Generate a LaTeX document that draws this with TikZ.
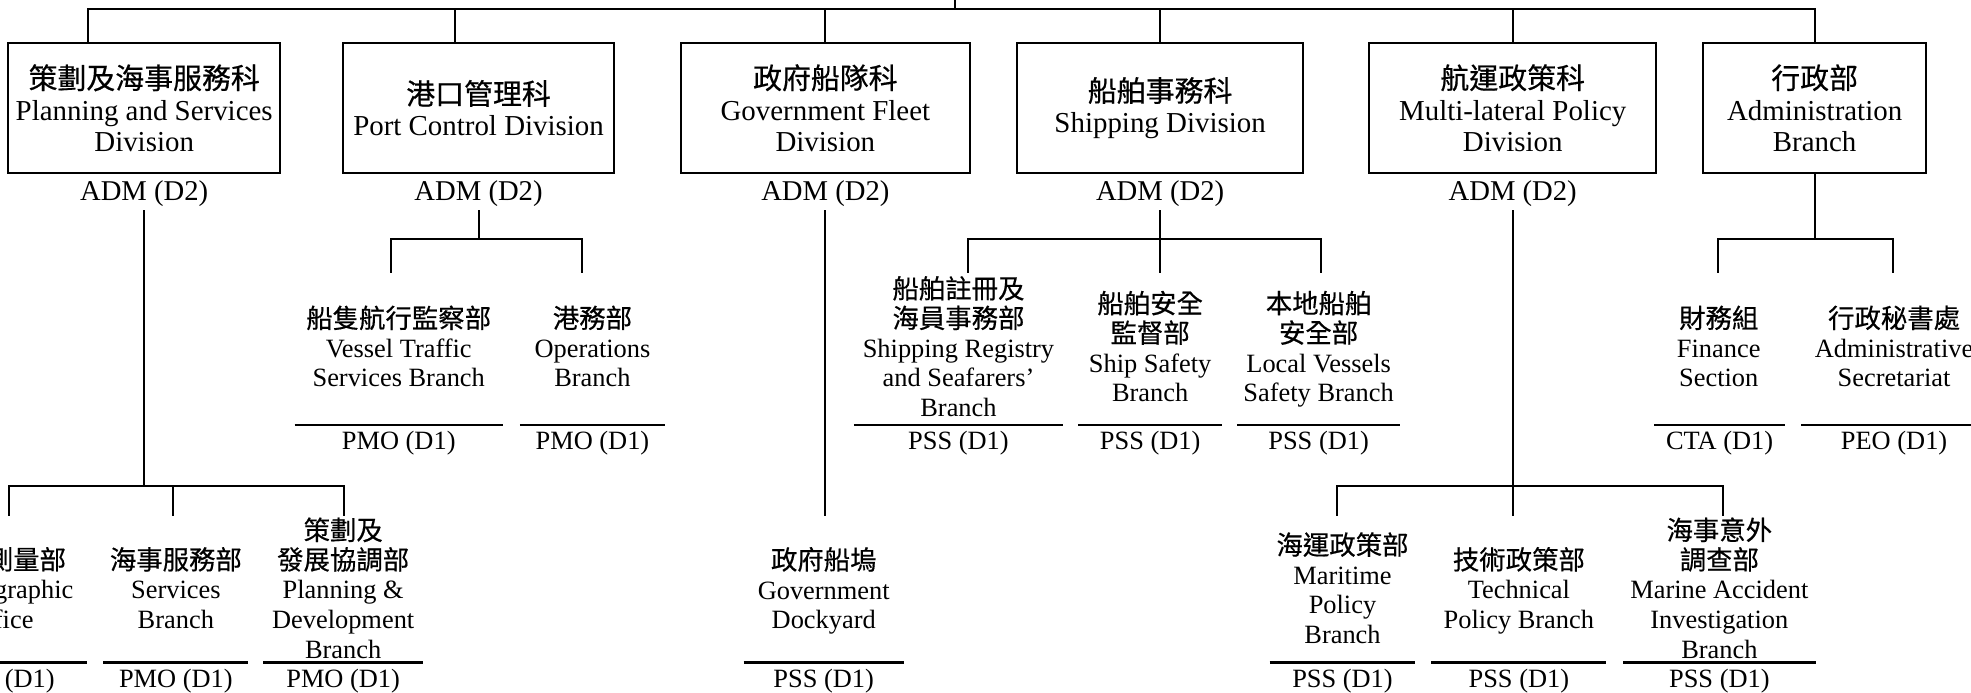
\documentclass[tikz,border=0pt]{standalone}
\usepackage{fontspec}
\setmainfont{Liberation Serif}
\newfontfamily\cjk[FakeBold=0.5]{Noto Sans CJK TC}
\newcommand{\zh}[1]{{\cjk #1}}
\usetikzlibrary{positioning}
\setlength{\lineskiplimit}{-\maxdimen}

\begin{document}
\begin{tikzpicture}[x=0.5pt,y=-0.5pt,
        link/.style={line width=0.8pt},
        rule/.style={line width=1pt},
        division/.style={draw,line width=0.8pt,minimum height=52pt,inner sep=0,align=center,
            font=\fontsize{11.5}{12.5}\selectfont},
        grade/.style={inner sep=0,outer sep=1.3pt,font=\fontsize{11.4}{12.5}\selectfont},
        branch/.style={inner sep=0,align=center,text depth=0pt,font=\fontsize{10.5}{11.75}\selectfont},
        rank/.style={anchor=north,inner sep=0,outer sep=0,minimum height=14.5pt,
            font=\fontsize{10.5}{11.75}\selectfont}]
    \useasboundingbox (0,0) rectangle (1568,551);
    \clip (0,0) rectangle (1568,551);

    % divisions
    \node[division,minimum width=108pt] (psd) at (114.7,86) {\zh{策劃及海事服務科}\\Planning and Services\\Division};
    \node[division,minimum width=108pt] (pcd) at (380.7,86) {\zh{港口管理科}\\Port Control Division};
    \node[division,minimum width=115pt] (gfd) at (656.6,86) {\zh{政府船隊科}\\Government Fleet\\Division};
    \node[division,minimum width=113.8pt] (shd) at (922.9,86) {\zh{船舶事務科}\\Shipping Division};
    \node[division,minimum width=114pt] (mpd) at (1203.4,86) {\zh{航運政策科}\\Multi-lateral Policy\\Division};
    \node[division,minimum width=88.8pt] (adb) at (1443.6,86) {\zh{行政部}\\Administration\\Branch};

    \node[grade,below=1.2pt of psd] (psdg) {ADM (D2)};
    \node[grade,below=1.2pt of pcd] (pcdg) {ADM (D2)};
    \node[grade,below=1.2pt of gfd] (gfdg) {ADM (D2)};
    \node[grade,below=1.2pt of shd] (shdg) {ADM (D2)};
    \node[grade,below=1.2pt of mpd] (mpdg) {ADM (D2)};

    % branches, upper row
    \node[branch] (vts) at (317.2,275.5) {\zh{船隻航行監察部}\\Vessel Traffic\\Services Branch};
    \node[branch] (ops) at (471.3,275.5) {\zh{港務部}\\Operations\\Branch};
    \node[branch] (srb) at (762.5,275.5) {\zh{船舶註冊及}\\\zh{海員事務部}\\Shipping Registry\\and Seafarers'\\Branch};
    \node[branch] (ssb) at (915,275.5) {\zh{船舶安全}\\\zh{監督部}\\Ship Safety\\Branch};
    \node[branch] (lvb) at (1049,275.5) {\zh{本地船舶}\\\zh{安全部}\\Local Vessels\\Safety Branch};
    \node[branch] (fin) at (1367.3,275.5) {\zh{財務組}\\Finance\\Section};
    \node[branch] (sec) at (1506.8,275.5) {\zh{行政秘書處}\\Administrative\\Secretariat};

    \node[rank,minimum width=82.9pt] (vtsr) at (317.2,338) {PMO (D1)};
    \node[rank,minimum width=57.7pt] (opsr) at (471.3,338) {PMO (D1)};
    \node[rank,minimum width=83.2pt] (srbr) at (762.5,338) {PSS (D1)};
    \node[rank,minimum width=57.3pt] (ssbr) at (915,338) {PSS (D1)};
    \node[rank,minimum width=64.7pt] (lvbr) at (1049,338) {PSS (D1)};
    \node[rank,minimum width=52pt] (finr) at (1368,338) {CTA (D1)};
    \node[rank,minimum width=74pt] (secr) at (1506.8,338) {PEO (D1)};

    % branches, lower row
    \node[branch] (hyd) at (0,467.6) {\zh{水道測量部}\\Hydrographic\\Office};
    \node[branch] (svc) at (139.9,467.6) {\zh{海事服務部}\\Services\\Branch};
    \node[branch] (pdb) at (273,467.6) {\zh{策劃及}\\\zh{發展協調部}\\Planning \&\\Development\\Branch};
    \node[branch] (gdy) at (655.3,467.6) {\zh{政府船塢}\\Government\\Dockyard};
    \node[branch] (mpb) at (1068,467.6) {\zh{海運政策部}\\Maritime\\Policy\\Branch};
    \node[branch] (tpb) at (1208.3,467.6) {\zh{技術政策部}\\Technical\\Policy Branch};
    \node[branch] (mai) at (1367.8,467.6) {\zh{海事意外}\\\zh{調查部}\\Marine Accident\\Investigation\\Branch};

    \node[rank,minimum width=69.5pt] (hydr) at (0,527) {CHL (D1)};
    \node[rank,minimum width=57.7pt] (svcr) at (139.9,527) {PMO (D1)};
    \node[rank,minimum width=63.7pt] (pdbr) at (273,527) {PMO (D1)};
    \node[rank,minimum width=63.7pt] (gdyr) at (655.3,527) {PSS (D1)};
    \node[rank,minimum width=58pt] (mpbr) at (1068,527) {PSS (D1)};
    \node[rank,minimum width=69.7pt] (tpbr) at (1208.3,527) {PSS (D1)};
    \node[rank,minimum width=76.5pt] (mair) at (1367.8,527) {PSS (D1)};

    \draw[rule] (vtsr.north west) -- (vtsr.north east);
    \draw[rule] (opsr.north west) -- (opsr.north east);
    \draw[rule] (srbr.north west) -- (srbr.north east);
    \draw[rule] (ssbr.north west) -- (ssbr.north east);
    \draw[rule] (lvbr.north west) -- (lvbr.north east);
    \draw[rule] (finr.north west) -- (finr.north east);
    \draw[rule] (secr.north west) -- (secr.north east);
    \draw[rule] (hydr.north west) -- (hydr.north east);
    \draw[rule] (svcr.north west) -- (svcr.north east);
    \draw[rule] (pdbr.north west) -- (pdbr.north east);
    \draw[rule] (gdyr.north west) -- (gdyr.north east);
    \draw[rule] (mpbr.north west) -- (mpbr.north east);
    \draw[rule] (tpbr.north west) -- (tpbr.north east);
    \draw[rule] (mair.north west) -- (mair.north east);

    % connectors
    \coordinate (up) at (759.7,-10);
    \coordinate (hub) at (759.7,6.8);
    \draw[link] (up) -- (hub);
    \draw[link] (hub) -| ([xshift=-22.35pt]psd.north);
    \draw[link] (hub) -| ([xshift=-9.5pt]pcd.north);
    \draw[link] (hub) -| (gfd.north);
    \draw[link] (hub) -| (shd.north);
    \draw[link] (hub) -| (mpd.north);
    \draw[link] (hub) -| (adb.north);

    \coordinate (psdbus) at (114.7,386.6);
    \coordinate (hydtip) at (7.2,410.6);
    \coordinate (svctip) at (137.9,410.6);
    \coordinate (pdbtip) at (273.3,410.6);
    \draw[link] (psdg.south) -- (psdbus);
    \draw[link] (psdbus) -| (hydtip) (psdbus) -| (svctip) (psdbus) -| (pdbtip);

    \coordinate (pcdbus) at (380.7,190.5);
    \coordinate (vtstip) at (311,217);
    \coordinate (opstip) at (463.3,217);
    \draw[link] (pcdg.south) -- (pcdbus);
    \draw[link] (pcdbus) -| (vtstip) (pcdbus) -| (opstip);

    \coordinate (gdytip) at (656.6,410.6);
    \draw[link] (gfdg.south) -- (gdytip);

    \coordinate (shdbus) at (922.9,190.5);
    \coordinate (srbtip) at (770,217);
    \coordinate (ssbtip) at (922.9,217);
    \coordinate (lvbtip) at (1051,217);
    \draw[link] (shdg.south) -- (shdbus);
    \draw[link] (shdbus) -| (srbtip) (shdbus) -| (ssbtip) (shdbus) -| (lvbtip);

    \coordinate (mpdbus) at (1203.4,386.6);
    \coordinate (mpbtip) at (1063.7,410.6);
    \coordinate (tpbtip) at (1203.4,410.6);
    \coordinate (maitip) at (1370.3,410.6);
    \draw[link] (mpdg.south) -- (mpdbus);
    \draw[link] (mpdbus) -| (mpbtip) (mpdbus) -| (tpbtip) (mpdbus) -| (maitip);

    \coordinate (adbbus) at (1443.6,190.5);
    \coordinate (fintip) at (1367,217);
    \coordinate (sectip) at (1506.3,217);
    \draw[link] (adb.south) -- (adbbus);
    \draw[link] (adbbus) -| (fintip) (adbbus) -| (sectip);
\end{tikzpicture}
\end{document}
